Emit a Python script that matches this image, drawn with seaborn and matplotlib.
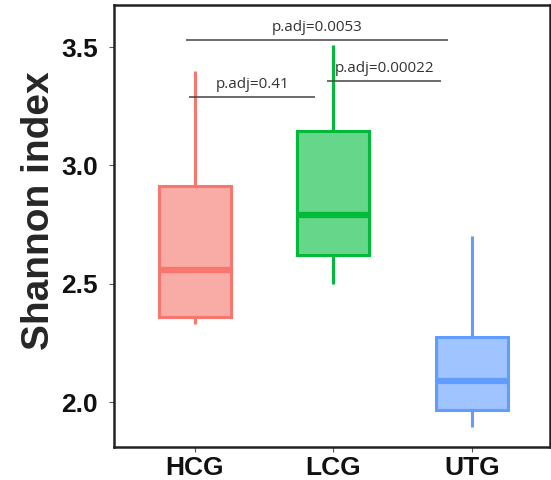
import matplotlib
matplotlib.use("Agg")
import matplotlib.pyplot as plt
import seaborn as sns
import pandas as pd

# ---- data (five-number summaries) ----
groups = ["HCG", "LCG", "UTG"]
hcg_values = [2.33, 2.36, 2.56, 2.915, 3.40]
lcg_values = [2.50, 2.62, 2.79, 3.145, 3.51]
utg_values = [1.894, 1.966, 2.089, 2.275, 2.70]
edge_colors = ["#F8766D", "#00BA38", "#619CFF"]
fill_colors = ["#F9ABA6", "#66D68A", "#A0C4FF"]
y_ticks = [2.0, 2.5, 3.0, 3.5]
comparisons = [("HCG", "UTG", "p.adj=0.0053", 3.530),
               ("HCG", "LCG", "p.adj=0.41", 3.288),
               ("LCG", "UTG", "p.adj=0.00022", 3.356)]

df = pd.DataFrame({
    "group": ["HCG"] * len(hcg_values) + ["LCG"] * len(lcg_values) + ["UTG"] * len(utg_values),
    "value": hcg_values + lcg_values + utg_values,
})

sns.set_theme(style="white")
plt.rcParams["font.family"] = ["Liberation Sans", "DejaVu Sans"]

fig = plt.figure(figsize=(5.51, 4.8), dpi=100)
ax = fig.add_axes([114 / 551, 33 / 480, 436 / 551, 442 / 480])

for g, ec, fc in zip(groups, edge_colors, fill_colors):
    sns.boxplot(data=df[df["group"] == g], x="group", y="value", order=groups,
                color=fc, linecolor=ec, saturation=1, width=0.52,
                whis=(0, 100), showcaps=False, linewidth=2.2,
                medianprops=dict(linewidth=4.5, color=ec),
                whiskerprops=dict(color=ec),
                ax=ax)

# significance bars
line_spans = {("HCG", "UTG"): (-0.065, 1.83),
              ("HCG", "LCG"): (-0.043, 0.87),
              ("LCG", "UTG"): (0.955, 1.78)}
for a, b, txt, yv in comparisons:
    x0, x1 = line_spans[(a, b)]
    ax.plot([x0, x1], [yv, yv], color="#444444", lw=1.1, solid_capstyle="butt")
    ax.text((x0 + x1) / 2, yv + 0.022, txt, ha="center", va="bottom",
            fontsize=11, color="#333333", family=["Open Sans", "DejaVu Sans"])

ax.set_xlim(-0.585, 2.565)
ax.set_ylim(1.81, 3.678)
ax.set_yticks(y_ticks)
ax.set_yticklabels([f"{t:.1f}" for t in y_ticks])
ax.set_xlabel("")
ax.set_ylabel("Shannon index", fontsize=28, fontweight="bold")
ax.yaxis.set_label_coords(-0.13, 0.534)

for s in ax.spines.values():
    s.set_visible(True)
    s.set_color("#222222")
    s.set_linewidth(1.8)

ax.tick_params(axis="both", which="major", labelsize=19, length=3.5, width=0.8,
               color="#555555", left=True, bottom=True)
for lab in ax.get_xticklabels() + ax.get_yticklabels():
    lab.set_fontweight("bold")
    lab.set_color("#111111")
ax.tick_params(axis="y", pad=8)
ax.tick_params(axis="x", pad=3)

fig.savefig("out.png", dpi=100)
